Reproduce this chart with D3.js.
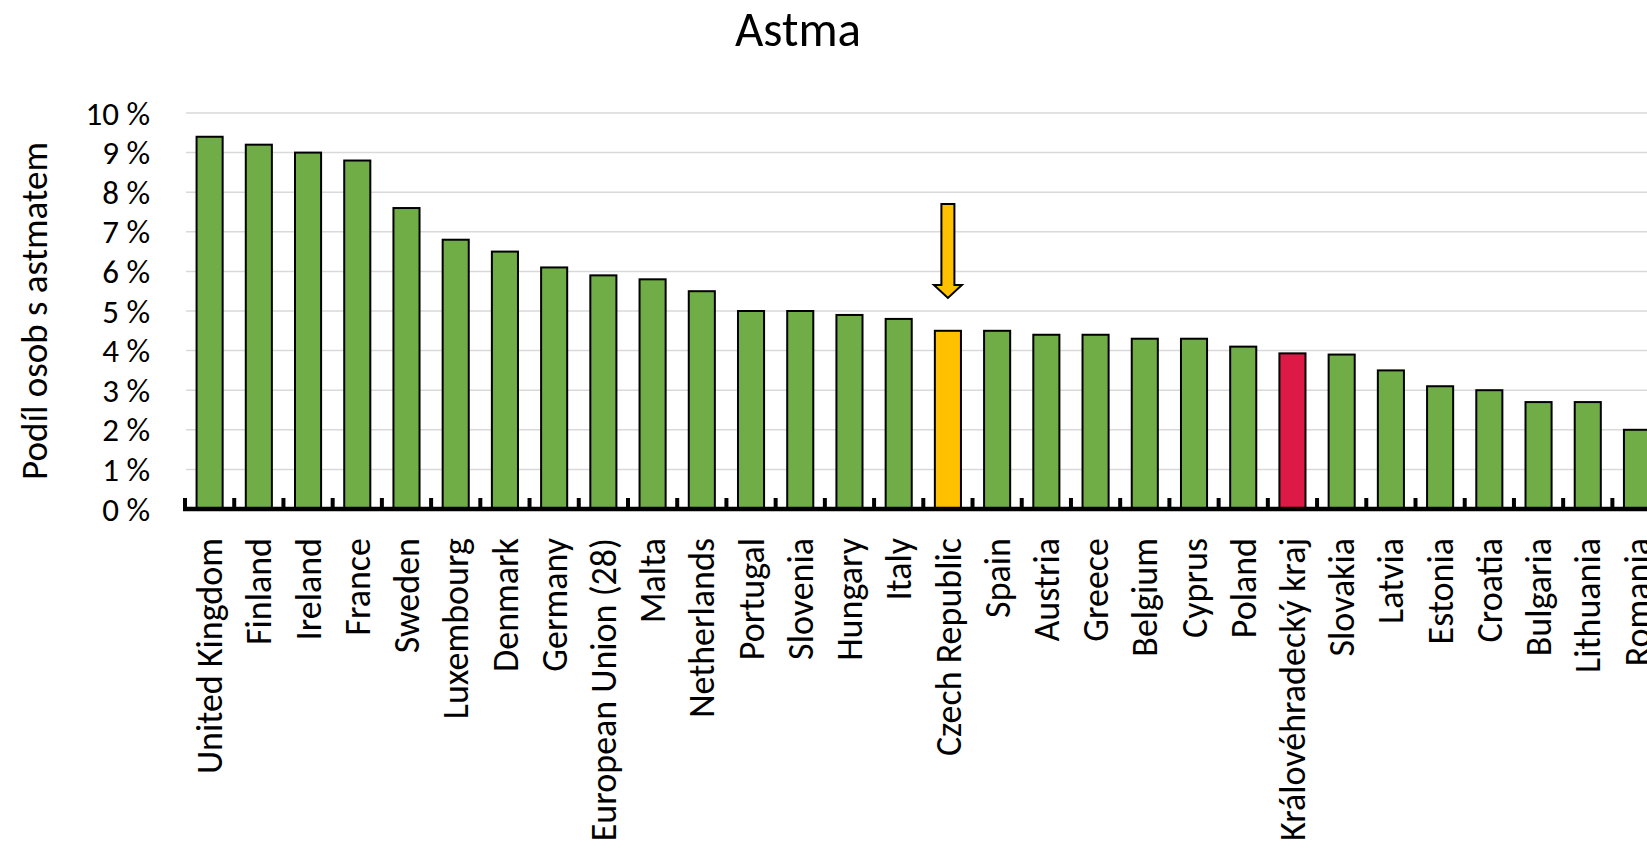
<!DOCTYPE html>
<html>
<head>
<meta charset="utf-8">
<script src="https://cdn.jsdelivr.net/npm/d3@7"></script>
<style>
  body { margin: 0; background: #fff; }
  svg { display: block; font-family: Carlito, Calibri, Lato, sans-serif; }
</style>
</head>
<body>
<svg id="chart"></svg>
<script>
// Share of people with asthma, by country (%)
const countries = ['United Kingdom', 'Finland', 'Ireland', 'France', 'Sweden', 'Luxembourg', 'Denmark',
  'Germany', 'European Union (28)', 'Malta', 'Netherlands', 'Portugal', 'Slovenia', 'Hungary', 'Italy',
  'Czech Republic', 'Spain', 'Austria', 'Greece', 'Belgium', 'Cyprus', 'Poland', 'Královéhradecký kraj',
  'Slovakia', 'Latvia', 'Estonia', 'Croatia', 'Bulgaria', 'Lithuania', 'Romania'];
const values = [9.4, 9.2, 9.0, 8.8, 7.6, 6.8, 6.5, 6.1, 5.9, 5.8, 5.5, 5.0, 5.0, 4.9, 4.8,
  4.5, 4.5, 4.4, 4.4, 4.3, 4.3, 4.1, 3.93, 3.9, 3.5, 3.1, 3.0, 2.7, 2.7, 2.0];
const yTicks = [0, 1, 2, 3, 4, 5, 6, 7, 8, 9, 10];
const highlightCz = 'Czech Republic';
const highlightRegion = 'Královéhradecký kraj';
// arrow above the Czech bar, in % units
const arrowFrom = 7.7, arrowTo = 5.33;

const width = 1647, height = 848;
const margin = {top: 113, left: 185, bottom: 339};
const step = 49.22;

const svg = d3.select('#chart')
    .attr('width', width)
    .attr('height', height);

const xScale = d3.scaleBand()
    .domain(countries)
    .range([margin.left, margin.left + step * countries.length])
    .paddingInner(0.47)
    .paddingOuter(0.235);

const yScale = d3.scaleLinear()
    .domain([0, 10])
    .range([height - margin.bottom, margin.top]);

const data = countries.map((c, i) => ({country: c, value: values[i]}));

// title
svg.append('text')
    .attr('x', 798)
    .attr('y', 46)
    .attr('text-anchor', 'middle')
    .attr('font-size', '49px')
    .text('Astma');

// y axis label
svg.append('text')
    .attr('transform', `translate(47,${(yScale(0) + yScale(10)) / 2}) rotate(-90)`)
    .attr('text-anchor', 'middle')
    .attr('font-size', '37px')
    .text('Podíl osob s astmatem');

// gridlines
svg.append('g')
    .selectAll('line')
    .data(yTicks.filter(d => d > 0))
  .join('line')
    .attr('x1', margin.left + 1)
    .attr('x2', width)
    .attr('y1', d => yScale(d))
    .attr('y2', d => yScale(d))
    .attr('stroke', '#d9d9d9')
    .attr('stroke-width', 1.5);

// y tick labels
svg.append('g')
    .selectAll('text')
    .data(yTicks)
  .join('text')
    .attr('x', 150)
    .attr('y', d => yScale(d))
    .attr('dy', '0.35em')
    .attr('text-anchor', 'end')
    .attr('font-size', '33px')
    .text(d => d + ' %');

// bars
svg.append('g')
    .selectAll('rect')
    .data(data)
  .join('rect')
    .attr('x', d => xScale(d.country))
    .attr('y', d => yScale(d.value))
    .attr('width', xScale.bandwidth())
    .attr('height', d => yScale(0) - yScale(d.value))
    .attr('fill', d => d.country === highlightCz ? '#ffc000'
        : d.country === highlightRegion ? '#dc1a45' : '#70ad47')
    .attr('stroke', '#000')
    .attr('stroke-width', 2);

// x axis: thick line with inside ticks at band boundaries
const xAxisG = svg.append('g');
xAxisG.selectAll('line.tick')
    .data(d3.range(countries.length + 1))
  .join('line')
    .attr('class', 'tick')
    .attr('x1', i => margin.left + i * xScale.step())
    .attr('x2', i => margin.left + i * xScale.step())
    .attr('y1', yScale(0))
    .attr('y2', yScale(0) - 11)
    .attr('stroke', '#000')
    .attr('stroke-width', 4);
xAxisG.append('line')
    .attr('x1', margin.left - 2)
    .attr('x2', width)
    .attr('y1', yScale(0))
    .attr('y2', yScale(0))
    .attr('stroke', '#000')
    .attr('stroke-width', 4.5);

// x labels
svg.append('g')
    .selectAll('text')
    .data(countries)
  .join('text')
    .attr('transform', d => `translate(${xScale(d) + xScale.bandwidth() / 2},${yScale(0) + 29}) rotate(-90)`)
    .attr('dy', '0.35em')
    .attr('text-anchor', 'end')
    .attr('font-size', '36px')
    .text(d => d);

// arrow pointing at the Czech bar
const cx = xScale(highlightCz) + xScale.bandwidth() / 2;
const yTop = yScale(arrowFrom), yTip = yScale(arrowTo), yNeck = yTip - 13;
const shaft = 6.5, head = 14;
svg.append('path')
    .attr('d', `M${cx - shaft},${yTop} L${cx + shaft},${yTop} L${cx + shaft},${yNeck} L${cx + head},${yNeck}
      L${cx},${yTip} L${cx - head},${yNeck} L${cx - shaft},${yNeck} Z`)
    .attr('fill', '#ffc000')
    .attr('stroke', '#000')
    .attr('stroke-width', 2);
</script>
</body>
</html>
